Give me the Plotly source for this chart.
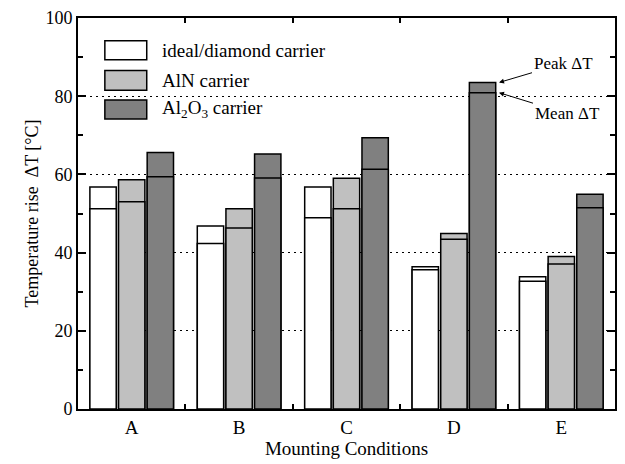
import plotly.graph_objects as go

conditions = ["A", "B", "C", "D", "E"]
carriers = ["ideal/diamond carrier", "AlN carrier", "Al<sub>2</sub>O<sub>3</sub> carrier"]
colors = ["#ffffff", "#c0c0c0", "#808080"]

peak_ideal = [56.8, 46.8, 56.8, 36.4, 33.8]
mean_ideal = [51.2, 42.3, 48.9, 35.6, 32.7]
peak_aln = [58.6, 51.2, 59.0, 44.9, 39.0]
mean_aln = [53.0, 46.3, 51.2, 43.4, 37.1]
peak_al2o3 = [65.6, 65.2, 69.4, 83.5, 54.9]
mean_al2o3 = [59.4, 59.1, 61.3, 80.9, 51.5]

peaks = [peak_ideal, peak_aln, peak_al2o3]
means = [mean_ideal, mean_aln, mean_al2o3]

FONT = "Liberation Serif"

fig = go.Figure()
for i in range(3):
    fig.add_trace(go.Bar(x=conditions, y=peaks[i], offsetgroup=str(i), name=carriers[i],
                         marker=dict(color=colors[i], line=dict(color="black", width=1.5)),
                         showlegend=False))
    fig.add_trace(go.Bar(x=conditions, y=means[i], offsetgroup=str(i), name=carriers[i],
                         marker=dict(color=colors[i], line=dict(color="black", width=1.5)),
                         showlegend=False))

shapes = []
annotations = []
# white legend background hiding grid
shapes.append(dict(type="rect", xref="paper", yref="y", x0=0.003, x1=0.527, y0=76, y1=99.5,
                   fillcolor="white", line=dict(width=0), layer="between"))
legend_rows = [(94.2, 89.3), (86.6, 81.5), (79.0, 74.2)]
for i, (top, bot) in enumerate(legend_rows):
    shapes.append(dict(type="rect", xref="paper", yref="y", x0=0.050, x1=0.128, y0=bot, y1=top,
                       fillcolor=colors[i], line=dict(color="black", width=1.5), layer="above"))
    annotations.append(dict(xref="paper", yref="y", x=0.152, y=(top + bot) / 2, text=carriers[i],
                            showarrow=False, xanchor="left", yanchor="middle",
                            font=dict(family=FONT, size=19, color="black")))

# Peak / Mean annotations on D Al2O3 bar
annotations.append(dict(x=3.42, y=peak_al2o3[3], xref="x", yref="y", text="Peak ΔT",
                        showarrow=True, arrowhead=2, arrowsize=1, arrowwidth=1, arrowcolor="black",
                        ax=64, ay=-19, font=dict(family=FONT, size=17, color="black")))
annotations.append(dict(x=3.42, y=mean_al2o3[3], xref="x", yref="y", text="Mean ΔT",
                        showarrow=True, arrowhead=2, arrowsize=1, arrowwidth=1, arrowcolor="black",
                        ax=68, ay=21, font=dict(family=FONT, size=17, color="black")))

fig.update_layout(
    width=625, height=464,
    margin=dict(l=78, r=8, t=15, b=55),
    plot_bgcolor="white", paper_bgcolor="white",
    barmode="group", bargap=0.2, bargroupgap=0.08,
    font=dict(family=FONT, size=18, color="black"),
    shapes=shapes, annotations=annotations,
)
fig.update_xaxes(
    type="category", range=[-0.5, 4.5], tickson="boundaries",
    ticks="inside", ticklen=5, tickwidth=1.5, tickcolor="black",
    showline=True, linewidth=2, linecolor="black", mirror="ticks",
    showgrid=False, tickfont=dict(family=FONT, size=19),
    title=dict(text="Mounting Conditions", font=dict(family=FONT, size=19), standoff=2),
)
fig.update_yaxes(
    range=[0, 100], dtick=20, tick0=0,
    ticks="inside", ticklen=8, tickwidth=1.5, tickcolor="black",
    minor=dict(dtick=10, ticks="inside", ticklen=5, tickwidth=1.5, tickcolor="black", showgrid=False),
    showline=True, linewidth=2, linecolor="black", mirror="ticks",
    showgrid=True, gridcolor="black", gridwidth=1.2, griddash="2px,4px",
    zeroline=False, tickfont=dict(family=FONT, size=18),
    title=dict(text="Temperature rise  ΔT [°C]", font=dict(family=FONT, size=18), standoff=2),
)

fig.write_html("out.html")
